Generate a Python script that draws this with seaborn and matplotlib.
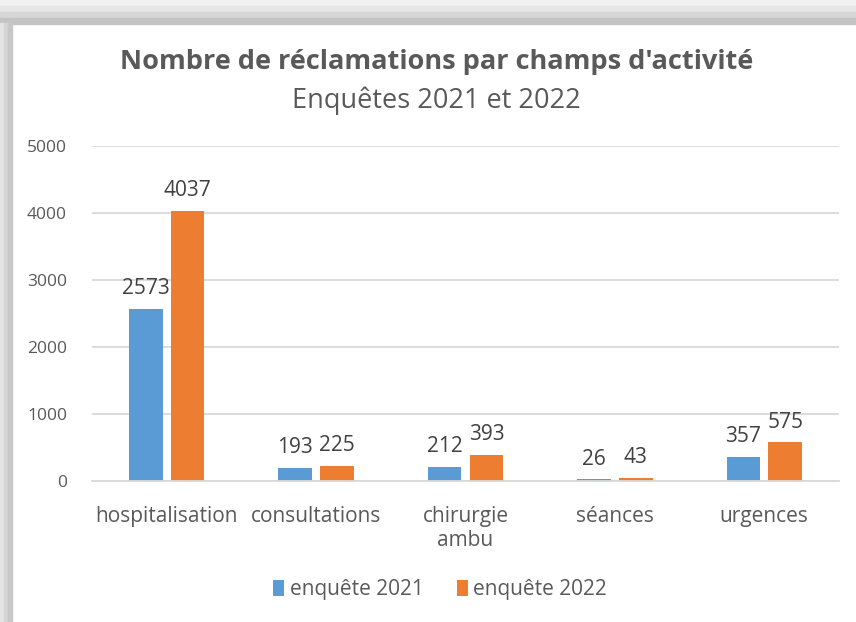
import pandas as pd
import matplotlib.pyplot as plt
import seaborn as sns
from matplotlib.patches import Rectangle

# données
categories = ["hospitalisation", "consultations", "chirurgie\nambu", "séances", "urgences"]
enquete_2021 = [2573, 193, 212, 26, 357]
enquete_2022 = [4037, 225, 393, 43, 575]
series = ["enquête 2021", "enquête 2022"]
colors = ["#5b9bd5", "#ed7d31"]

df = pd.DataFrame({
    "champ": categories * 2,
    "valeur": enquete_2021 + enquete_2022,
    "serie": [series[0]] * len(categories) + [series[1]] * len(categories),
})

sns.set_style("white")
plt.rcParams["font.family"] = ["Open Sans", "DejaVu Sans"]

fig = plt.figure(figsize=(8.56, 6.22), dpi=100)
fig.patch.set_facecolor("white")

# cadre gris (ombre) en haut et à gauche
W, H = 856, 622
for i, c in enumerate(["#f2f2f2", "#e6e6e6", "#d6d6d6", "#c4c4c4"]):
    y0 = 1 - (i + 1) * 6 / H
    fig.patches.append(Rectangle((0, y0), 1, 6 / H, transform=fig.transFigure,
                                 color=c, zorder=-1))
for i, c in enumerate(["#e4e4e4", "#d4d4d4", "#c8c8c8"]):
    fig.patches.append(Rectangle((i * 4 / W, 0), 4 / W, 1 - 23 / H,
                                 transform=fig.transFigure, color=c, zorder=-1))

ax = fig.add_axes([92 / W, 1 - 481 / H, 747 / W, 335 / H])
sns.barplot(data=df, x="champ", y="valeur", hue="serie", palette=colors,
            width=0.56, gap=0.2, saturation=1, linewidth=0, ax=ax, legend=True)

ax.set_ylim(0, 5000)
ax.set_yticks(range(0, 5001, 1000))
ax.yaxis.grid(True, color="#d9d9d9", lw=1.3)
ax.set_axisbelow(True)
for s in ["top", "right", "left"]:
    ax.spines[s].set_visible(False)
ax.spines["bottom"].set_color("#d9d9d9")
ax.spines["bottom"].set_linewidth(1.3)
ax.set_xlabel("")
ax.set_ylabel("")
ax.tick_params(axis="y", length=0, pad=18, labelsize=12.5, labelcolor="#595959")
ax.tick_params(axis="x", length=0, pad=18, labelsize=15, labelcolor="#595959")

for cont in ax.containers:
    ax.bar_label(cont, padding=7, fontsize=15, color="#404040")

handles, labels = ax.get_legend_handles_labels()
ax.legend_.remove()
fig.legend(handles, labels, loc="center", bbox_to_anchor=(0.514, 1 - 590 / H),
           ncol=2, frameon=False, fontsize=15, labelcolor="#595959",
           handlelength=0.55, handleheight=0.8, handletextpad=0.25, columnspacing=1.6)

fig.text(0.51, 1 - 62 / H, "Nombre de réclamations par champs d'activité",
         ha="center", va="center", fontsize=19.5, fontweight="bold", color="#595959")
fig.text(0.51, 1 - 101 / H, "Enquêtes 2021 et 2022",
         ha="center", va="center", fontsize=19.5, color="#595959")

fig.savefig("out.png", dpi=100)
